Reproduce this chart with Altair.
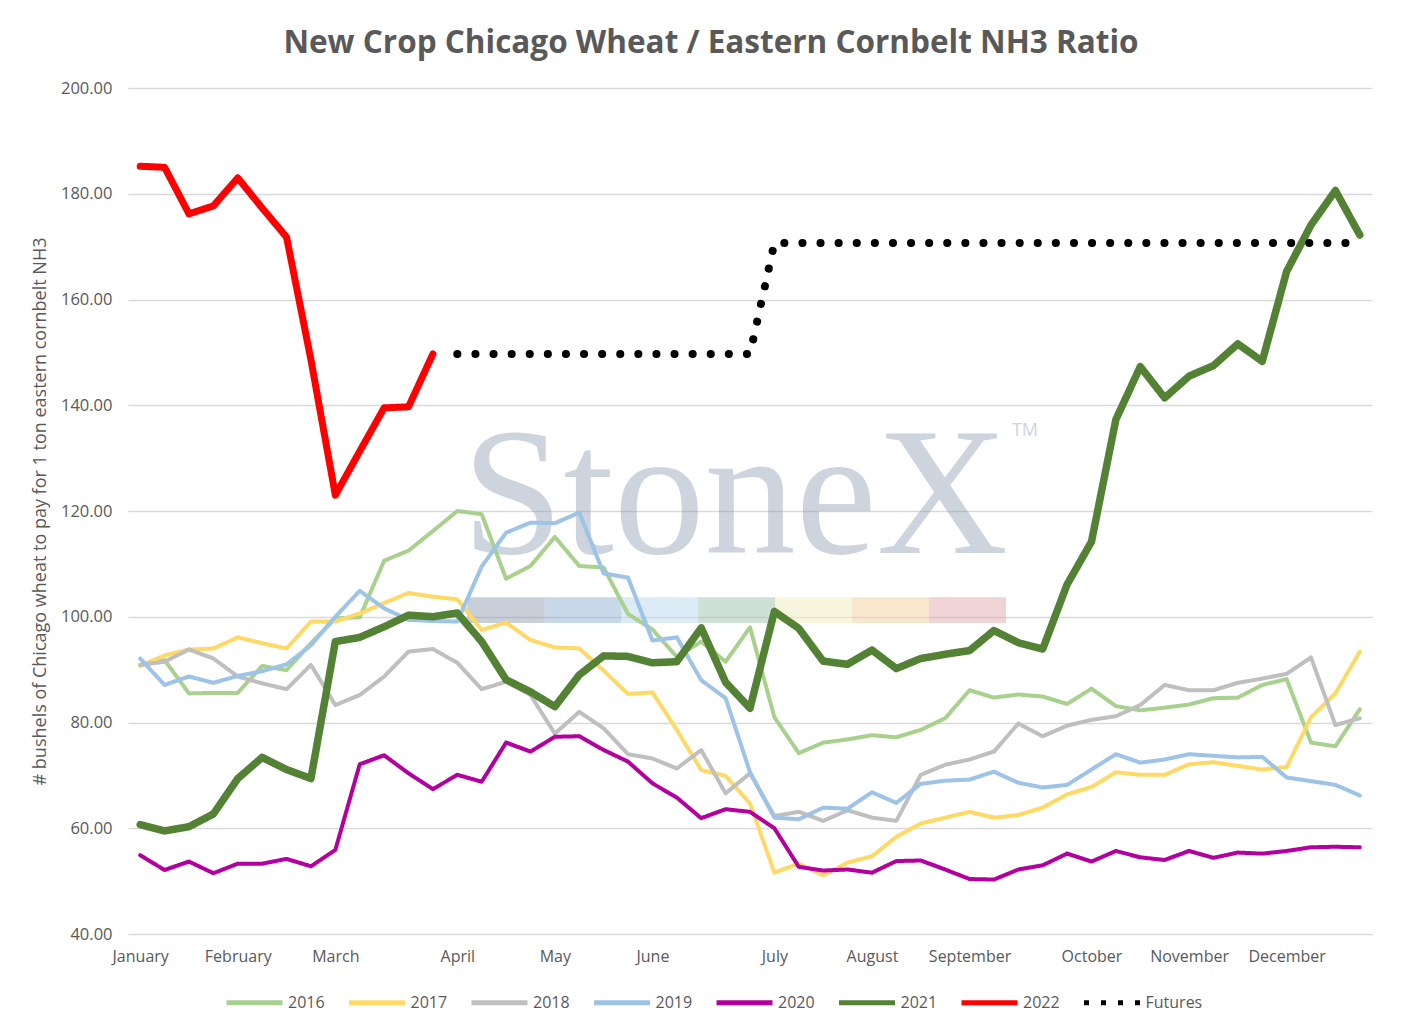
import altair as alt
import pandas as pd

# ---------------- data ----------------
s2016 = [90.9, 91.8, 85.5, 85.6, 85.6, 90.7, 89.9, 95.0, 99.7, 99.9,
         110.6, 112.5, 116.2, 120.0, 119.4, 107.2, 109.6, 115.1, 109.6, 109.3,
         100.5, 97.6, 92.4, 95.3, 91.5, 98.0, 81.0, 74.2, 76.2, 76.8,
         77.6, 77.2, 78.6, 80.8, 86.1, 84.7, 85.3, 84.9, 83.5, 86.4,
         83.1, 82.3, 82.8, 83.4, 84.6, 84.7, 87.1, 88.2, 76.2, 75.5, 82.5]
s2017 = [90.7, 92.7, 93.8, 94.0, 96.1, 95.0, 94.0, 99.1, 99.1, 100.6,
         102.6, 104.5, 103.8, 103.3, 97.5, 98.9, 95.6, 94.2, 94.0, 89.8,
         85.4, 85.7, 78.6, 71.0, 69.9, 64.7, 51.6, 53.3, 51.1, 53.5,
         54.7, 58.4, 60.9, 62.0, 63.1, 62.0, 62.5, 63.9, 66.4, 67.8,
         70.6, 70.1, 70.1, 72.1, 72.5, 71.8, 71.1, 71.6, 81.0, 85.5, 93.4]
s2018 = [90.9, 91.5, 93.8, 92.1, 88.7, 87.4, 86.3, 90.9, 83.3, 85.2,
         88.7, 93.4, 93.9, 91.3, 86.3, 87.7, 85.2, 77.9, 82.0, 78.9,
         74.0, 73.2, 71.3, 74.8, 66.6, 70.4, 62.3, 63.1, 61.4, 63.4,
         62.0, 61.4, 70.1, 72.0, 73.0, 74.5, 79.8, 77.4, 79.4, 80.5,
         81.2, 83.3, 87.1, 86.1, 86.1, 87.5, 88.3, 89.2, 92.3, 79.5, 80.8]
s2019 = [92.1, 87.1, 88.7, 87.5, 88.8, 89.7, 91.0, 94.6, 100.0, 104.9,
         101.6, 99.4, 99.2, 99.1, 109.5, 115.9, 117.8, 117.7, 119.7, 108.2,
         107.4, 95.5, 96.1, 88.0, 84.6, 70.6, 62.0, 61.7, 63.9, 63.7,
         66.8, 64.8, 68.4, 69.0, 69.2, 70.7, 68.6, 67.7, 68.2, 71.1,
         74.0, 72.4, 73.0, 74.0, 73.7, 73.4, 73.5, 69.6, 68.9, 68.2, 66.2]
s2020 = [54.9, 52.1, 53.7, 51.5, 53.3, 53.3, 54.2, 52.8, 55.9, 72.1,
         73.8, 70.4, 67.4, 70.1, 68.8, 76.2, 74.5, 77.3, 77.4, 74.8,
         72.6, 68.5, 65.8, 61.9, 63.6, 63.1, 60.0, 52.7, 52.0, 52.2,
         51.6, 53.8, 53.9, 52.2, 50.4, 50.3, 52.2, 53.0, 55.2, 53.7,
         55.7, 54.5, 54.0, 55.7, 54.4, 55.4, 55.2, 55.7, 56.4, 56.5, 56.4]
s2021 = [60.7, 59.5, 60.3, 62.7, 69.4, 73.4, 71.1, 69.4, 95.3, 96.1,
         98.1, 100.3, 100.0, 100.7, 95.3, 88.1, 85.8, 83.0, 89.0, 92.6,
         92.5, 91.3, 91.5, 97.9, 87.6, 82.7, 101.0, 97.8, 91.6, 91.0,
         93.7, 90.2, 92.1, 92.9, 93.6, 97.4, 95.1, 93.9, 106.1, 114.2,
         137.3, 147.3, 141.4, 145.5, 147.5, 151.6, 148.3, 165.3, 174.1, 180.6, 172.2]
s2022 = [185.2, 185.0, 176.2, 177.7, 183.0, 177.3, 171.8, 148.6, 123.0, 131.3,
         139.5, 139.7, 149.7]
futures = [149.7, 149.7, 149.7, 149.7, 149.7, 149.7, 149.7, 149.7, 149.7, 149.7,
           149.7, 149.7, 149.7,
           170.7, 170.7, 170.7, 170.7, 170.7, 170.7, 170.7, 170.7, 170.7, 170.7,
           170.7, 170.7, 170.7, 170.7, 170.7, 170.7, 170.7, 170.7, 170.7, 170.7,
           170.7, 170.7, 170.7, 170.7, 170.7]

series_names = ["2016", "2017", "2018", "2019", "2020", "2021", "2022", "Futures"]
series_values = [s2016, s2017, s2018, s2019, s2020, s2021, s2022, futures]
series_start = [0, 0, 0, 0, 0, 0, 0, 13]

month_names = ["January", "February", "March", "April", "May", "June", "July",
               "August", "September", "October", "November", "December"]
month_weeks = [0, 4, 8, 13, 17, 21, 26, 30, 34, 39, 43, 47]

# ---------------- styles ----------------
series_colors = ["#A9D18E", "#FFD966", "#BFBFBF", "#9DC3E6", "#B3009F",
                 "#548235", "#FF0000", "#000000"]
# dash patterns as shown in the legend symbols
legend_dashes = [[1, 0], [1, 0], [1, 0], [1, 0], [1, 0], [1, 0], [1, 0], [5, 12]]
band_colors = ["#919fb1", "#93b1d1", "#b9d7ed", "#9fc3ad", "#f1edbd", "#f1cd9d", "#e1a7ab"]

GREY = "#595959"
FONT = "Open Sans"

rows = []
for name, vals, start in zip(series_names, series_values, series_start):
    for k, v in enumerate(vals):
        rows.append({"week": start + k, "value": v, "series": name})
df = pd.DataFrame(rows)

bands = pd.DataFrame({"idx": list(range(len(band_colors))), "bcolor": band_colors})

label_map = "{" + ",".join(f"'{w}':'{m}'" for w, m in zip(month_weeks, month_names)) + "}"

xscale = alt.Scale(domain=[-0.5, 50.5], nice=False, zero=False)
yscale = alt.Scale(domain=[40, 200], nice=False, zero=False)

xaxis = alt.Axis(values=month_weeks, labelExpr=f"{label_map}[datum.value]",
                 title=None, grid=False, ticks=False, domain=False,
                 labelPadding=14, labelFont=FONT, labelFontSize=16,
                 labelColor=GREY, labelOverlap=False)
yaxis = alt.Axis(values=[40, 60, 80, 100, 120, 140, 160, 180, 200], format=".2f",
                 title="# bushels of Chicago wheat to pay for 1 ton eastern cornbelt NH3",
                 titleFont=FONT, titleFontSize=18, titleFontWeight="normal",
                 titleColor=GREY, titlePadding=11,
                 grid=True, gridColor="#D9D9D9", gridWidth=1.3,
                 ticks=False, domain=False, labelPadding=16,
                 labelFont=FONT, labelFontSize=16.5, labelColor=GREY)

leg = alt.Legend(title=None, orient="none", legendX=96, legendY=884,
                 direction="horizontal", columns=8,
                 symbolType="stroke", symbolSize=3136,
                 symbolStrokeWidth=5, labelOffset=3,
                 columnPadding=13.5, labelFont=FONT, labelFontSize=16,
                 labelColor=GREY)

color_enc = alt.Color("series:N", scale=alt.Scale(domain=series_names, range=series_colors),
                      legend=leg)
dash_enc = alt.StrokeDash("series:N", scale=alt.Scale(domain=series_names, range=legend_dashes),
                          legend=leg)

band_layer = alt.Chart(bands).transform_calculate(
    x0="13.41 + 3.155 * datum.idx",
    x1="13.41 + 3.155 * (datum.idx + 1)",
    y0="98.8",
    y1="103.7",
).mark_rect(opacity=0.5).encode(
    x=alt.X("x0:Q", scale=xscale, axis=xaxis),
    x2="x1:Q",
    y=alt.Y("y0:Q", scale=yscale, axis=yaxis),
    y2="y1:Q",
    fill=alt.Fill("bcolor:N", scale=None, legend=None),
)

wm = alt.Chart(pd.DataFrame({"t": ["StoneX"]})).mark_text(
    font="Liberation Serif", fontSize=182, color="#8a9bb0", opacity=0.42,
    align="center", baseline="alphabetic",
).encode(text="t:N", x=alt.value(607), y=alt.value(465))

tm = alt.Chart(pd.DataFrame({"t": ["TM"]})).mark_text(
    font=FONT, fontSize=18, color="#8a9bb0", opacity=0.42,
    align="center", baseline="alphabetic",
).encode(text="t:N", x=alt.value(897), y=alt.value(348))


def line_layer(names, width, dotted=False):
    base = alt.Chart(df).transform_filter(
        alt.FieldOneOfPredicate(field="series", oneOf=names)
    )
    if dotted:
        mk = base.mark_line(strokeCap="round", strokeJoin="round", strokeWidth=width,
                            strokeDash=[0.1, 18])
        enc = dict(color=color_enc)
    else:
        mk = base.mark_line(strokeCap="round", strokeJoin="round", strokeWidth=width)
        enc = dict(color=color_enc, strokeDash=dash_enc)
    return mk.encode(
        x=alt.X("week:Q", scale=xscale, axis=xaxis),
        y=alt.Y("value:Q", scale=yscale, axis=yaxis),
        order=alt.Order("week:Q"),
        **enc,
    )


thin = line_layer(["2016", "2017", "2018", "2019", "2020"], 4)
green = line_layer(["2021"], 7.5)
red = line_layer(["2022"], 7)
fut = line_layer(["Futures"], 8, dotted=True)

chart = alt.layer(band_layer, wm, tm, thin, green, red, fut).properties(
    width=1244, height=846,
    autosize="none",
    padding={"left": 120, "top": 80, "right": 42, "bottom": 85},
    title=alt.TitleParams(
        "New Crop Chicago Wheat / Eastern Cornbelt NH3 Ratio",
        font=FONT, fontSize=31.5, fontWeight="bold", color=GREY,
        anchor="middle", dx=-39, offset=21,
    ),
).configure_view(stroke=None)

chart.save("out.html", embed_options={"renderer": "svg", "actions": False})
